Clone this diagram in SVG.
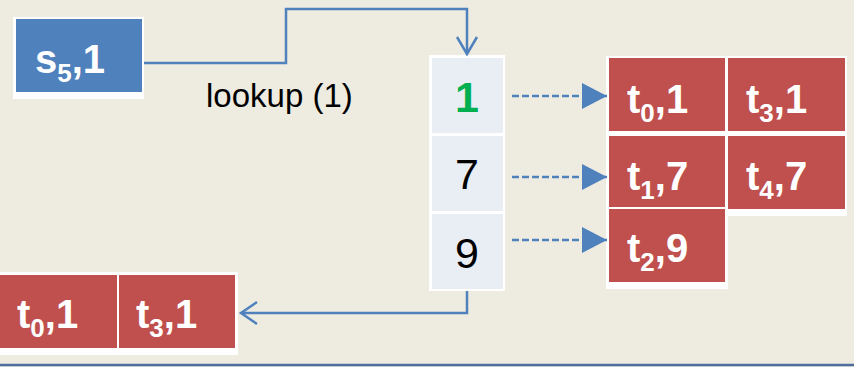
<svg xmlns="http://www.w3.org/2000/svg" width="854" height="367" viewBox="0 0 854 367">
<style>
.bg{fill:#EEEBE1}
.lbl{font-family:"Liberation Sans",Arial,sans-serif;font-weight:bold;font-size:40px;fill:#fff}
.sub{font-size:26px}
.red{fill:#C0504D}
.cell{fill:#E9EDF4}
.num{font-family:"Liberation Sans",Arial,sans-serif;font-size:43px;text-anchor:middle;fill:#000}
.conn{fill:none;stroke:#4F81BD;stroke-width:2.5}
.dash{fill:none;stroke:#4F81BD;stroke-width:2.5;stroke-dasharray:7 3}
</style>
<defs>
<marker id="tri" markerWidth="26" markerHeight="26" viewBox="0 0 26 26" refX="25" refY="13" orient="auto" markerUnits="userSpaceOnUse">
<path d="M0,0 L25,13 L0,26 Z" fill="#4F81BD"/>
</marker>
</defs>
<rect class="bg" x="0" y="0" width="854" height="367"/>
<line x1="0" y1="365" x2="854" y2="365" stroke="#4F6E9F" stroke-width="2.5"/>

<g id="s5">
<rect x="13" y="17" width="131" height="82" fill="#fff"/>
<rect x="16" y="19" width="126" height="73" fill="#4F81BD"/>
<text class="lbl" x="35" y="73">s<tspan class="sub" dy="9">5</tspan><tspan dy="-9">,1</tspan></text>
</g>

<text id="lookup" x="206" y="107" font-family="'Liberation Sans',Arial,sans-serif" font-size="33" fill="#000">lookup (1)</text>

<g id="hash">
<rect x="429" y="55" width="76" height="236" fill="#fff"/>
<rect class="cell" x="432" y="58" width="71" height="75"/>
<rect class="cell" x="432" y="136" width="71" height="75"/>
<rect class="cell" x="432" y="214" width="71" height="75"/>
<text class="num" x="467" y="112" style="fill:#00B050;font-weight:bold">1</text>
<text class="num" x="467" y="189">7</text>
<text class="num" x="467" y="268">9</text>
</g>

<g id="buckets">
<rect x="606" y="56" width="241" height="160" fill="#fff"/>
<rect x="606" y="56" width="122" height="233" fill="#fff"/>
<g id="t0_1"><rect class="red" x="609" y="58" width="116" height="73"/>
<text class="lbl" x="627" y="113">t<tspan class="sub" dy="9">0</tspan><tspan dy="-9">,1</tspan></text></g>
<g id="t3_1"><rect class="red" x="728" y="58" width="117" height="73"/>
<text class="lbl" x="746" y="113">t<tspan class="sub" dy="9">3</tspan><tspan dy="-9">,1</tspan></text></g>
<g id="t1_7"><rect class="red" x="609" y="136" width="116" height="71"/>
<text class="lbl" x="627" y="190">t<tspan class="sub" dy="9">1</tspan><tspan dy="-9">,7</tspan></text></g>
<g id="t4_7"><rect class="red" x="728" y="136" width="117" height="73"/>
<text class="lbl" x="746" y="190">t<tspan class="sub" dy="9">4</tspan><tspan dy="-9">,7</tspan></text></g>
<g id="t2_9"><rect class="red" x="609" y="209" width="116" height="73"/>
<text class="lbl" x="627" y="262">t<tspan class="sub" dy="9">2</tspan><tspan dy="-9">,9</tspan></text></g>
</g>

<g id="result">
<rect x="0" y="272" width="238" height="83" fill="#fff"/>
<g id="r_t0_1"><rect class="red" x="0" y="275" width="117" height="73"/>
<text class="lbl" x="17" y="328">t<tspan class="sub" dy="9">0</tspan><tspan dy="-9">,1</tspan></text></g>
<g id="r_t3_1"><rect class="red" x="119" y="275" width="116" height="73"/>
<text class="lbl" x="136" y="328">t<tspan class="sub" dy="9">3</tspan><tspan dy="-9">,1</tspan></text></g>
</g>

<g id="connectors">
<path class="conn" d="M144,63 H286 V9 H467 V54"/>
<path class="conn" d="M457,37 L467,54 L477,37"/>
<line class="dash" x1="512" y1="96" x2="607" y2="96" marker-end="url(#tri)"/>
<line class="dash" x1="512" y1="177" x2="607" y2="177" marker-end="url(#tri)"/>
<line class="dash" x1="512" y1="240" x2="607" y2="240" marker-end="url(#tri)"/>
<path class="conn" d="M467,291 V313 H241"/>
<path class="conn" d="M257,302 L241,313 L257,324"/>
</g>
</svg>
